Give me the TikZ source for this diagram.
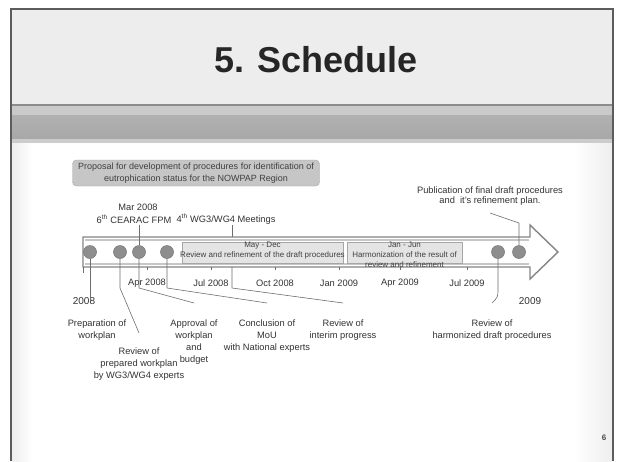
\documentclass[tikz,border=0pt]{standalone}
\usepackage{fontspec}
\setmainfont{Liberation Sans}
\usepackage{xcolor}
\definecolor{framegray}{HTML}{5C5C5C}
\definecolor{titlebg}{HTML}{EDEDED}
\definecolor{stripelt}{HTML}{CACACA}
\definecolor{stripedk}{HTML}{A8A8A8}
\definecolor{sidebg}{HTML}{EEEEEE}
\definecolor{proposalbg}{HTML}{C6C6C6}
\definecolor{periodbg}{HTML}{E4E4E4}
\definecolor{evfill}{HTML}{8E8E8E}
\definecolor{arrowgray}{HTML}{858585}
\definecolor{leadgray}{HTML}{6E6E6E}
\def\shafttop{237}
\def\shaftbot{267}
\def\axisy{252}
\newcommand{\lblfont}{\fontsize{9.3}{11.8}\selectfont}
\newcommand{\smfont}{\fontsize{8}{10.2}\selectfont}
\newcommand{\period}[4]{%
  \fill[periodbg,draw=black!35,line width=0.4pt] ({#1},242) rectangle ({#2},263);
  \node[font=\smfont,align=center,inner sep=0pt,text=black!75,anchor=north]
     (#3) at ({(#1+#2)/2},241.5) {#4};
}
\tikzset{
  ev/.style={circle,fill=evfill,draw=black!55,line width=0.5pt,minimum size=13pt,inner sep=0pt},
  lbl/.style={font=\lblfont,align=center,inner sep=1pt,text=black!80},
  mon/.style={font=\lblfont,inner sep=1pt,text=black!80},
  lead/.style={leadgray,line width=0.6pt}
}

\begin{document}
\begin{tikzpicture}[x=1pt,y=-1pt]
\useasboundingbox (0,0) rectangle (621,461);
\fill[white] (0,0) rectangle (621,461);

% --- slide frame + title band ---------------------------------------
\fill[titlebg] (11,9) rectangle (613,105);
\fill[black!45] (11,104) rectangle (613,106);
\fill[stripelt] (11,106) rectangle (613,115);
\shade[top color=stripedk!90,bottom color=stripedk] (11,115) rectangle (613,139);
\fill[black!20] (11,139) rectangle (613,143);
\shade[left color=sidebg,right color=white] (12,143) rectangle (32,461);
\shade[left color=white,right color=sidebg] (574,143) rectangle (612,461);
\draw[framegray,line width=2.2pt] (11,461) -- (11,9) -- (613,9) -- (613,461);
\node[font=\fontsize{36}{40}\selectfont\bfseries,text=black!85] (title) at (316,60) {5. Schedule};
\node[font=\fontsize{8}{9}\selectfont\bfseries,text=black!70] (pageno) at (604,438) {6};

% --- proposal box ----------------------------------------------------
\node[fill=proposalbg,draw=black!35,rounded corners=4pt,minimum width=247pt,minimum height=26pt,
  align=center,font=\fontsize{9}{12}\selectfont,text=black!75,inner sep=1pt] (proposal) at (196,173)
  {Proposal for development of procedures for identification of\\eutrophication status for the NOWPAP Region};

% --- timeline arrow --------------------------------------------------
\draw[arrowgray,line width=1.4pt,fill=white,line join=miter]
  (83,\shafttop) -- (530,\shafttop) -- (530,225) -- (558,\axisy) -- (530,279) -- (530,\shaftbot) -- (83,\shaftbot) -- cycle;
\draw[black!22,line width=2pt] (84.5,240) -- (529,240);
\draw[black!22,line width=2pt] (84.5,264) -- (529,264);
\coordinate (shafttop) at (0,\shafttop);
\coordinate (shaftbot) at (0,\shaftbot);

% --- periods ---------------------------------------------------------
\period{182}{343}{may}{May - Dec\\Review and refinement of the draft procedures}
\period{347}{462}{jan}{Jan - Jun\\Harmonization of the result of\\review and refinement}

% --- month ticks + labels --------------------------------------------
\draw[leadgray,line width=0.6pt] (83,\shaftbot) -- (83,273);
\foreach \x/\m in {147/Apr 2008,211/Jul 2008,275/Oct 2008,339/Jan 2009,400/Apr 2009,467/Jul 2009}{
  \draw[leadgray,line width=0.5pt] (\x,\shaftbot) -- (\x,270);
  \node[mon] (m\x) at (\x,283) {\m};
}
\node[font=\fontsize{10}{12}\selectfont,text=black!80] (y2008) at (84,301) {2008};
\node[font=\fontsize{10}{12}\selectfont,text=black!80] (y2009) at (530,301) {2009};

% --- events ----------------------------------------------------------
\node[lbl] (mar) at (138,207) {Mar 2008};
\node[lbl] (fpm) at (134,219) {6\textsuperscript{th} CEARAC FPM};
\node[lbl] (mtg) at (226,219) {4\textsuperscript{th} WG3/WG4 Meetings};
\coordinate (mtgpt) at (232,\axisy);

\node[lbl,anchor=north] (prep) at (97,319) {Preparation of\\workplan};
\node[lbl,anchor=north] (revwp) at (139,347) {Review of\\prepared workplan\\by WG3/WG4 experts};
\node[lbl,anchor=north] (appr) at (194,319) {Approval of\\workplan\\and\\budget};
\node[lbl,anchor=north] (mou) at (267,319) {Conclusion of\\MoU\\with National experts};
\node[lbl,anchor=north] (interim) at (343,319) {Review of\\interim progress};
\node[lbl,anchor=north] (harm) at (492,319) {Review of\\harmonized draft procedures};
\node[lbl,anchor=south,font=\fontsize{9.3}{10.4}\selectfont] (publ) at (490,207)
  {Publication of final draft procedures\\and\ \ it's refinement plan.};

\foreach \n/\x in {1/90,2/120,3/139,4/167,5/498,6/519}
  \node[ev] (c\n) at (\x,\axisy) {};

% --- leaders ---------------------------------------------------------
\draw[lead] (c1.south) -- (c1 |- y2008.center);
\draw[lead] (c2.south) -- (c2 |- 0,288) -- ([yshift=14pt]revwp.north);
\draw[lead] (fpm.south -| c3) -- (c3.north);
\draw[lead] (c3.south) -- (c3 |- 0,288) -- ([yshift=16pt]appr.north);
\draw[lead] (c4.south) -- (c4 |- 0,288) -- ([yshift=16pt]mou.north);
\draw[lead] (mtg.south -| mtgpt) -- (mtgpt |- shafttop);
\draw[lead] (mtgpt |- shaftbot) -- (mtgpt |- 0,288) -- ([yshift=16pt]interim.north);
\draw[lead] (c5.south) -- (c5 |- 0,288) .. controls (c5 |- 0,297) .. ([yshift=16pt]harm.north);
\draw[lead] (c6.north) -- (c6 |- 0,223) -- ([yshift=-6pt]publ.south);

\end{tikzpicture}
\end{document}
